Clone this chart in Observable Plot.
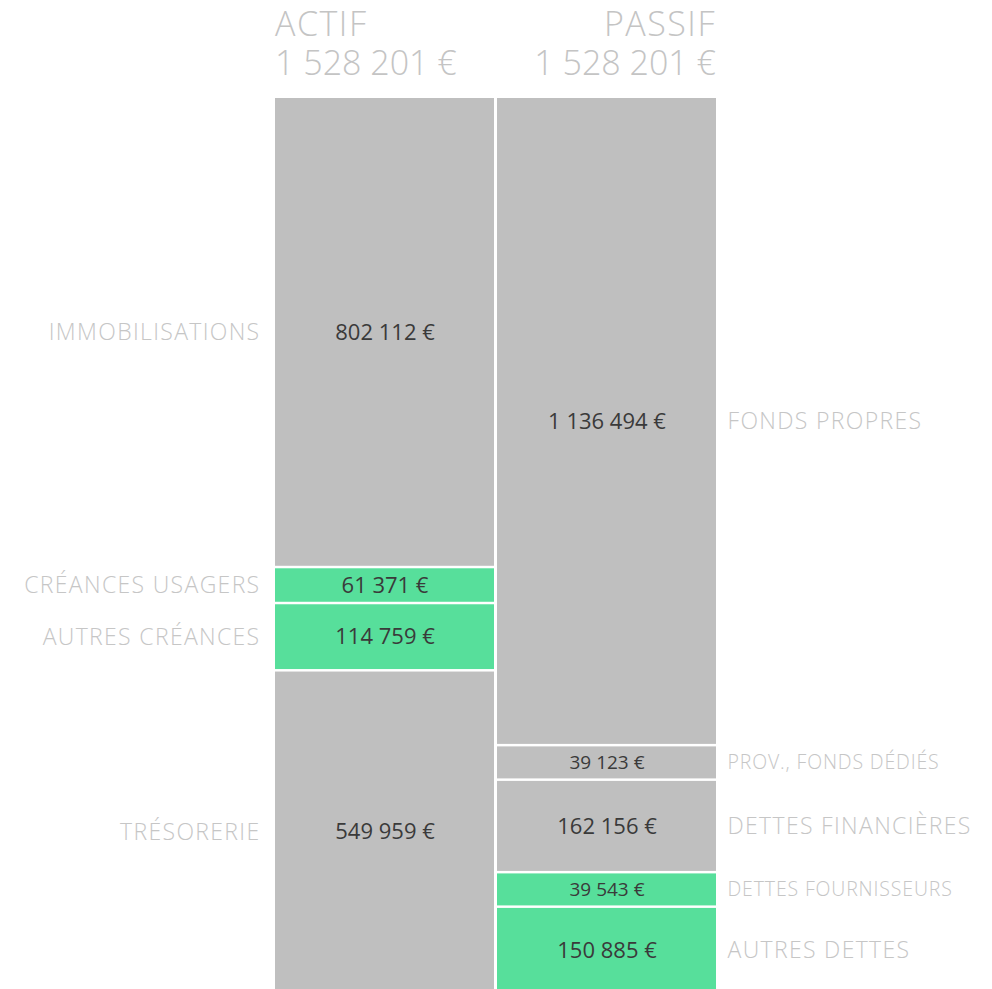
<!DOCTYPE html>
<html>
<head>
<meta charset="utf-8">
<script src="https://cdn.jsdelivr.net/npm/d3@7"></script>
<script src="https://cdn.jsdelivr.net/npm/@observablehq/plot@0.6"></script>
<style>
  html, body { margin: 0; padding: 0; background: #fff; overflow: hidden; }
  #head { position: relative; width: 992px; height: 98px; font-family: "Open Sans", sans-serif; font-weight: 300; color: #c4c4c4; font-size: 34px; line-height: 39px; }
  #head div.col { position: absolute; top: 4px; white-space: nowrap; }
  #head .t { letter-spacing: 1.5px; }
  #chart svg { display: block; }
</style>
</head>
<body>
<div id="head"></div>
<div id="chart"></div>
<script>
const columns = ["ACTIF", "PASSIF"];

const actifLabels = ["IMMOBILISATIONS", "CRÉANCES USAGERS", "AUTRES CRÉANCES", "TRÉSORERIE"];
const actifValues = [802112, 61371, 114759, 549959];
const actifGreen = [false, true, true, false];

const passifLabels = ["FONDS PROPRES", "PROV., FONDS DÉDIÉS", "DETTES FINANCIÈRES", "DETTES FOURNISSEURS", "AUTRES DETTES"];
const passifValues = [1136494, 39123, 162156, 39543, 150885];
const passifGreen = [false, false, false, true, true];

// layout constants (styling)
const MIN_SHARE = 34.5 / 896; // minimum visual share for very small blocks
const GRAY = "#bfbfbf";
const GREEN = "#57df9b";
const LABEL = "#c6c6c6";
const VALUE = "#3a3a3a";
const BIG_FS = 23, SMALL_FS = 19.5;

const fmt = v => d3.format(",")(v).replace(/,/g, " ") + " €";

function layout(side, labels, values, green) {
  const total = d3.sum(values);
  const min = total * MIN_SHARE;
  const small = values.map(v => v < min);
  const nSmall = small.filter(Boolean).length;
  const bigSum = d3.sum(values.filter((v, i) => !small[i]));
  const k = (total - nSmall * min) / bigSum;
  const disp = values.map((v, i) => small[i] ? min : v * k);
  const ends = Array.from(d3.cumsum(disp));
  return values.map((v, i) => ({
    side, label: labels[i], value: v, green: green[i], small: small[i],
    y1: ends[i] - disp[i], y2: ends[i]
  }));
}

const actif = layout(columns[0], actifLabels, actifValues, actifGreen);
const passif = layout(columns[1], passifLabels, passifValues, passifGreen);
const data = actif.concat(passif);
const totals = [d3.sum(actifValues), d3.sum(passifValues)];

// header
const head = document.getElementById("head");
columns.forEach((c, i) => {
  const d = document.createElement("div");
  d.className = "col";
  const l1 = document.createElement("div");
  l1.className = "t";
  l1.textContent = c;
  const l2 = document.createElement("div");
  l2.textContent = fmt(totals[i]);
  d.appendChild(l1);
  d.appendChild(l2);
  if (i === 0) { d.style.left = "275px"; d.style.textAlign = "left"; }
  else { d.style.right = "276px"; d.style.textAlign = "right"; }
  head.appendChild(d);
});

const mid = d => (d.y1 + d.y2) / 2;
const labelOpts = (small) => ({
  y: mid, text: "label", fontSize: small ? SMALL_FS : BIG_FS, fill: LABEL, fontWeight: 300, dy: -1
});

const chart = Plot.plot({
  width: 992,
  height: 896,
  marginTop: 0,
  marginBottom: 0,
  marginLeft: 275,
  marginRight: 276,
  x: { domain: columns, paddingInner: 3 / 222, paddingOuter: 0, axis: null },
  y: { domain: [0, d3.max(totals)], reverse: true, axis: null },
  color: { type: "identity" },
  style: { fontFamily: "'Open Sans', sans-serif", background: "#fff", overflow: "visible" },
  marks: [
    Plot.barY(data, { x: "side", y1: "y1", y2: "y2", fill: d => d.green ? GREEN : GRAY, insetBottom: 2.5 }),
    Plot.text(data, { x: "side", y: mid, text: d => fmt(d.value), fontSize: d => d.small ? 19 : 22, fill: VALUE, fontWeight: 400, dy: -1 }),
    Plot.text(actif.filter(d => !d.small), { ...labelOpts(false), frameAnchor: "left", textAnchor: "end", dx: -15 }),
    Plot.text(actif.filter(d => d.small), { ...labelOpts(true), frameAnchor: "left", textAnchor: "end", dx: -15 }),
    Plot.text(passif.filter(d => !d.small), { ...labelOpts(false), frameAnchor: "right", textAnchor: "start", dx: 11 }),
    Plot.text(passif.filter(d => d.small), { ...labelOpts(true), frameAnchor: "right", textAnchor: "start", dx: 11 })
  ]
});
// letter spacing for category labels, chosen from each group's constant font size
chart.querySelectorAll('g[aria-label="text"]').forEach(g => {
  const fs = +g.getAttribute("font-size");
  if (fs === BIG_FS) g.style.letterSpacing = "1.33px";
  else if (fs === SMALL_FS) g.style.letterSpacing = "0.85px";
});
document.getElementById("chart").appendChild(chart);
</script>
</body>
</html>
